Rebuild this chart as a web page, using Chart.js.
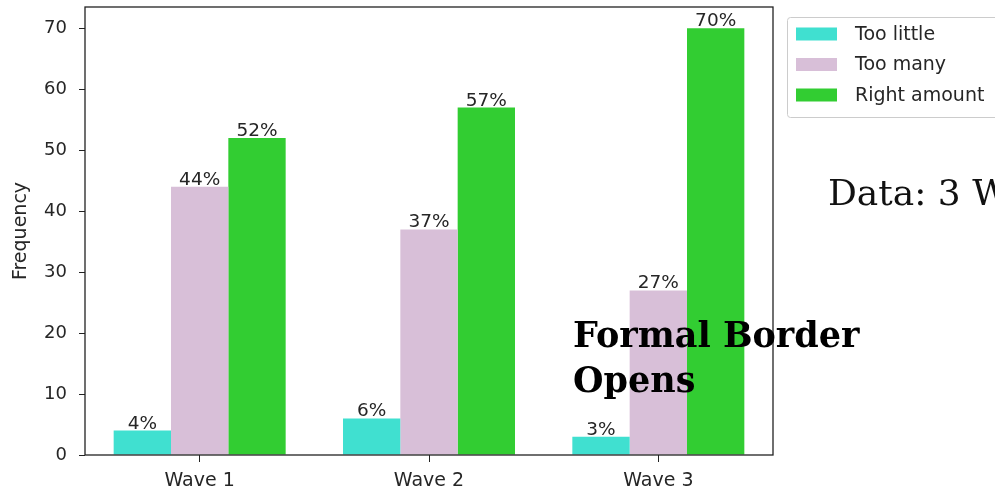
<!DOCTYPE html>
<html>
<head>
<meta charset="utf-8">
<script src="https://cdn.jsdelivr.net/npm/chart.js@4/dist/chart.umd.min.js"></script>
<style>
  html, body { margin: 0; padding: 0; background: #ffffff; }
  canvas { display: block; }
</style>
</head>
<body>
<canvas id="c" width="995" height="491"></canvas>
<script>
const categories = ['Wave 1', 'Wave 2', 'Wave 3'];
const seriesLabels = ['Too little', 'Too many', 'Right amount'];
const tooLittle = [4, 6, 3];
const tooMany = [44, 37, 27];
const rightAmount = [52, 57, 70];
const seriesColors = ['#40E0D0', '#D8BFD8', '#32CD32'];
const yTickValues = [0, 10, 20, 30, 40, 50, 60, 70];
const yAxisTitle = 'Frequency';
const sideNote = 'Data: 3 W';
const overlayLines = ['Formal Border', 'Opens'];

const TEXT = '#262626';
const FRAME = '#222222';

const framePlugin = {
  id: 'frame',
  afterDatasetsDraw(chart) {
    const { ctx, chartArea: a } = chart;
    ctx.save();
    ctx.font = '18.5px "DejaVu Sans"';
    ctx.fillStyle = TEXT;
    ctx.textAlign = 'center';
    ctx.textBaseline = 'alphabetic';
    chart.data.datasets.forEach((ds, di) => {
      const meta = chart.getDatasetMeta(di);
      meta.data.forEach((bar, i) => {
        ctx.fillText(ds.data[i] + '%', bar.x, bar.y - 2);
      });
    });
    ctx.strokeStyle = FRAME;
    ctx.lineWidth = 1.3;
    ctx.strokeRect(a.left, a.top, a.right - a.left, a.bottom - a.top);
    ctx.restore();
  },
  afterDraw(chart) {
    const { ctx } = chart;
    ctx.save();
    const lx = 787.5, ly = 17.5, lw = 240, lh = 100;
    ctx.fillStyle = 'rgba(255,255,255,0.85)';
    ctx.strokeStyle = '#cccccc';
    ctx.lineWidth = 1;
    ctx.beginPath();
    if (ctx.roundRect) ctx.roundRect(lx, ly, lw, lh, 3); else ctx.rect(lx, ly, lw, lh);
    ctx.fill();
    ctx.stroke();
    ctx.font = '19px "DejaVu Sans"';
    ctx.textBaseline = 'middle';
    ctx.textAlign = 'left';
    chart.data.datasets.forEach((ds, i) => {
      const cy = 34 + i * 30.5;
      ctx.fillStyle = ds.backgroundColor;
      ctx.fillRect(796, cy - 6.5, 41, 13);
      ctx.fillStyle = TEXT;
      ctx.fillText(ds.label, 855, cy + 1);
    });
    ctx.fillStyle = '#111111';
    ctx.textBaseline = 'alphabetic';
    ctx.font = '36px "DejaVu Serif"';
    ctx.fillText(sideNote, 828, 205);
    ctx.fillStyle = '#000000';
    ctx.font = 'bold 35px "DejaVu Serif"';
    ctx.fillText(overlayLines[0], 573, 347);
    ctx.fillText(overlayLines[1], 573, 392);
    ctx.restore();
  }
};

new Chart(document.getElementById('c'), {
  type: 'bar',
  data: {
    labels: categories,
    datasets: [
      { label: seriesLabels[0], data: tooLittle, backgroundColor: seriesColors[0] },
      { label: seriesLabels[1], data: tooMany, backgroundColor: seriesColors[1] },
      { label: seriesLabels[2], data: rightAmount, backgroundColor: seriesColors[2] }
    ]
  },
  options: {
    responsive: false,
    animation: false,
    devicePixelRatio: 1,
    layout: { padding: { top: 7, right: 222, left: 0, bottom: 0 } },
    datasets: { bar: { categoryPercentage: 0.75, barPercentage: 1.0, borderWidth: 0 } },
    plugins: {
      legend: { display: false },
      tooltip: { enabled: false },
      title: { display: false }
    },
    scales: {
      x: {
        offset: true,
        border: { display: false },
        grid: { display: true, drawOnChartArea: false, drawTicks: true, tickLength: 7, tickColor: FRAME, offset: false },
        ticks: { color: TEXT, font: { family: 'DejaVu Sans', size: 19 }, padding: 8, maxRotation: 0 },
        afterFit(s) { s.height = 36; s.paddingLeft = 0; s.paddingRight = 0; }
      },
      y: {
        min: 0,
        max: 73.5,
        border: { display: false },
        grid: { display: true, drawOnChartArea: false, drawTicks: true, tickLength: 6, tickColor: FRAME },
        ticks: { color: TEXT, font: { family: 'DejaVu Sans', size: 18 }, padding: 12, stepSize: 10 },
        afterBuildTicks(s) { s.ticks = yTickValues.map(v => ({ value: v })); },
        title: {
          display: true,
          text: yAxisTitle,
          color: TEXT,
          font: { family: 'DejaVu Sans', size: 19 },
          padding: { top: 10, bottom: 0 }
        },
        afterFit(s) { s.width = 85; s.paddingTop = 0; s.paddingBottom = 0; }
      }
    }
  },
  plugins: [framePlugin]
});
</script>
</body>
</html>
